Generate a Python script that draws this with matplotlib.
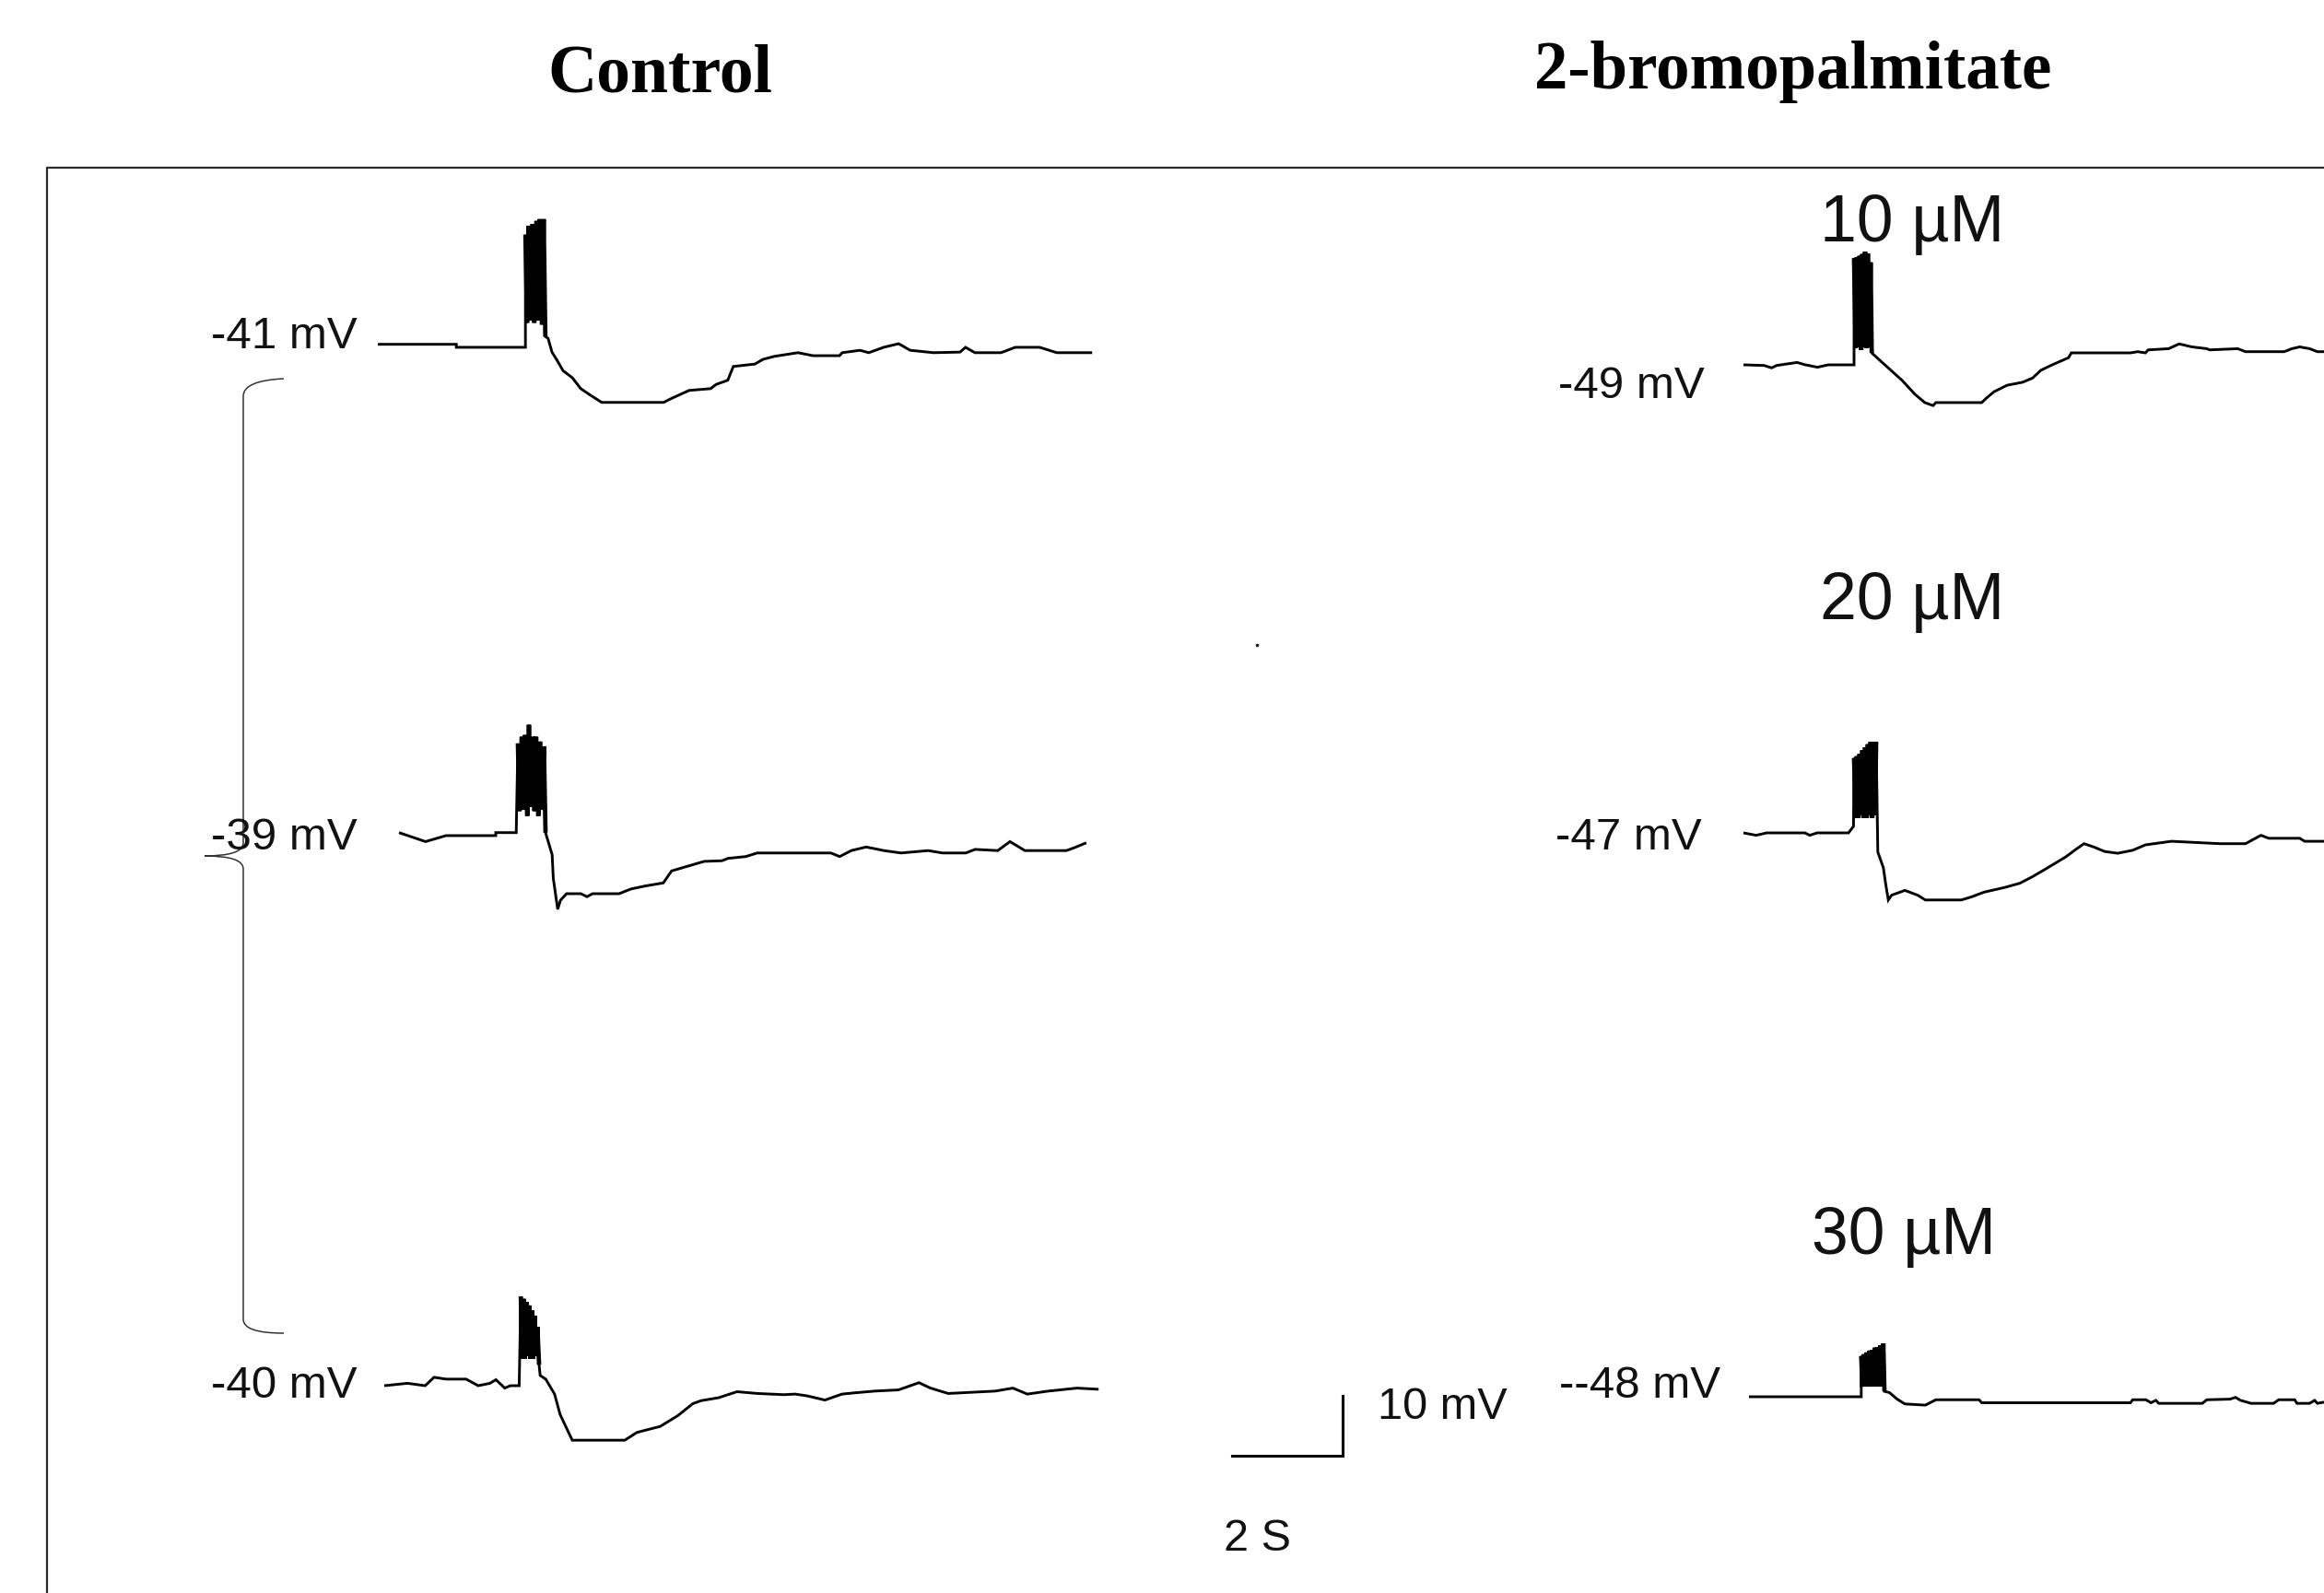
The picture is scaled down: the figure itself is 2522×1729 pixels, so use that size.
import numpy as np
import matplotlib
matplotlib.use('Agg')
from matplotlib import pyplot as plt
from matplotlib.path import Path
from matplotlib.patches import PathPatch

# figure in pixels, scale bar says 2 s = 120 px and 10 mV = 65 px
W, H = 2522, 1729
px_per_s = 60.0
px_per_mV = 6.5

# recordings: time (s) from sweep start, membrane potential (mV)
ctrl1_t = [0, 1.42, 1.42, 2.67,
           2.67, 2.70, 2.73, 2.77, 2.80, 2.83, 2.87, 2.90, 2.93, 2.97, 3.00, 3.03,
           3.08, 3.15, 3.25, 3.35, 3.52, 3.67, 3.83, 4.05, 5.17, 5.32, 5.63, 6.02,
           6.12, 6.33, 6.43, 6.82, 6.97, 7.18, 7.60, 7.87, 8.35, 8.40, 8.72, 8.88,
           9.15, 9.42, 9.63, 10.05, 10.53, 10.63, 10.80, 11.27, 11.53, 11.97, 12.28, 12.92]
ctrl1_v = [-40.8, -40.8, -41.3, -41.3,
           -22.5, -37.2, -21.0, -36.8, -20.7, -37.2, -20.2, -36.8, -19.9, -37.5, -19.9, -39.5,
           -39.8, -42.1, -43.6, -45.2, -46.4, -48.2, -49.2, -50.5, -50.5, -49.8, -48.5, -48.2,
           -47.5, -46.8, -44.5, -44.1, -43.3, -42.8, -42.2, -42.7, -42.7, -42.2, -41.8, -42.2,
           -41.3, -40.7, -41.8, -42.2, -42.1, -41.3, -42.2, -42.2, -41.3, -41.3, -42.2, -42.2]

ctrl2_t = [0, 0.48, 0.85, 1.75, 1.75, 2.12,
           2.15, 2.18, 2.22, 2.25, 2.28, 2.32, 2.35, 2.38, 2.42, 2.45, 2.48, 2.52, 2.55, 2.58, 2.62, 2.65,
           2.77, 2.79, 2.87, 2.92, 3.03, 3.29, 3.40, 3.50, 3.98, 4.20, 4.46, 4.78, 4.93, 5.15,
           5.52, 5.84, 5.95, 6.27, 6.48, 7.81, 7.97, 8.18, 8.45, 8.77, 9.08, 9.57, 9.83, 10.25,
           10.42, 10.83, 11.05, 11.32, 12.07, 12.22, 12.43]
ctrl2_v = [-38.8, -40.3, -39.3, -39.3, -38.8, -38.8,
           -23.9, -35.2, -22.8, -35.0, -22.5, -36.0, -20.8, -34.5, -22.8, -35.2, -22.8, -36.0, -23.6, -35.0, -24.4, -38.8,
           -42.5, -46.4, -51.6, -50.1, -49.0, -49.0, -49.5, -49.0, -49.0, -48.2, -47.7, -47.2, -45.2, -44.6,
           -43.6, -43.5, -43.1, -42.8, -42.2, -42.2, -42.8, -41.8, -41.2, -41.8, -42.2, -41.8, -42.2, -42.2,
           -41.6, -41.8, -40.3, -41.8, -41.8, -41.3, -40.5]

ctrl3_t = [0, 0.42, 0.74, 0.90, 1.12, 1.48, 1.70, 1.91, 2.02, 2.18, 2.28, 2.44,
           2.47, 2.49, 2.52, 2.54, 2.57, 2.59, 2.62, 2.64, 2.67, 2.69, 2.72, 2.74, 2.77, 2.80,
           2.82, 2.92, 3.08, 3.18, 3.40, 4.35, 4.57, 4.99, 5.31, 5.58, 5.73, 6.05, 6.38, 6.75,
           7.23, 7.43, 7.65, 7.97, 8.28, 8.50, 8.87, 9.30, 9.67, 9.88, 10.20, 11.05, 11.37,
           11.63, 12.01, 12.22, 12.53, 12.92]
ctrl3_v = [-40.0, -39.6, -40.0, -38.6, -38.9, -38.9, -40.0, -39.6, -39.0, -40.4, -40.0, -40.0,
           -25.1, -35.5, -25.5, -35.5, -26.0, -35.0, -26.6, -35.5, -27.4, -35.5, -28.3, -35.0, -30.2, -36.5,
           -38.3, -38.9, -41.4, -44.8, -49.1, -49.1, -47.8, -46.8, -45.0, -43.0, -42.5, -42.0, -41.0, -41.3,
           -41.5, -41.4, -41.7, -42.4, -41.4, -41.2, -40.9, -40.7, -39.5, -40.4, -41.3, -40.9, -40.4,
           -41.4, -40.9, -40.7, -40.4, -40.6]

bp10_t = [0, 0.37, 0.51, 0.60, 0.97, 1.12, 1.34, 1.53, 2.00,
          2.00, 2.03, 2.05, 2.08, 2.10, 2.13, 2.15, 2.18, 2.20, 2.23, 2.25, 2.28, 2.30, 2.32,
          2.45, 2.63, 2.87, 3.10, 3.28, 3.43, 3.48, 4.31, 4.40, 4.53, 4.77, 5.05, 5.23, 5.38,
          5.56, 5.88, 5.93, 7.00, 7.13, 7.27, 7.32, 7.69, 7.88, 8.11, 8.38, 8.43, 8.94, 9.08,
          9.78, 9.92, 10.06, 10.24, 10.38, 10.63]
bp10_v = [-49.0, -49.1, -49.5, -49.1, -48.6, -49.0, -49.4, -49.0, -49.0,
          -31.2, -46.2, -31.0, -46.0, -30.8, -46.5, -30.5, -46.0, -30.1, -46.2, -30.4, -46.0, -31.9, -47.0,
          -48.1, -49.6, -51.6, -53.9, -55.3, -55.8, -55.3, -55.3, -54.5, -53.5, -52.4, -51.9, -51.2, -49.9,
          -49.1, -47.8, -47.0, -47.0, -46.8, -47.0, -46.5, -46.3, -45.5, -46.0, -46.3, -46.5, -46.3, -46.8,
          -46.8, -46.3, -46.0, -46.3, -46.8, -46.8]

bp20_t = [0, 0.23, 0.42, 1.11, 1.20, 1.33, 1.90, 1.99,
          2.00, 2.03, 2.05, 2.08, 2.10, 2.13, 2.15, 2.18, 2.20, 2.23, 2.25, 2.28, 2.30, 2.33, 2.35, 2.38, 2.40,
          2.43, 2.53, 2.57, 2.62, 2.68, 2.92, 3.15, 3.29, 3.94, 4.12, 4.35, 4.73, 5.00, 5.23,
          5.47, 5.65, 5.83, 6.02, 6.16, 6.35, 6.53, 6.77, 7.04, 7.27, 7.74, 8.62, 9.08, 9.36,
          9.50, 10.06, 10.15, 10.63]
bp20_v = [-47.0, -47.4, -47.0, -47.0, -47.4, -47.0, -47.0, -45.9,
          -34.5, -44.5, -34.2, -44.5, -33.8, -44.0, -33.2, -44.5, -32.7, -44.5, -32.2, -44.0, -31.8, -44.5, -31.8, -44.0, -31.8,
          -50.2, -52.8, -55.4, -58.2, -57.4, -56.6, -57.4, -58.2, -58.2, -57.7, -56.9, -56.1, -55.4, -54.3,
          -53.0, -52.0, -51.0, -49.7, -48.8, -49.4, -50.1, -50.4, -49.9, -49.0, -48.4, -48.8, -48.8, -47.4,
          -47.9, -47.9, -48.4, -48.4]

bp30_t = [0, 2.03,
          2.03, 2.05, 2.08, 2.10, 2.13, 2.15, 2.18, 2.20, 2.23, 2.25, 2.28, 2.30, 2.33, 2.35, 2.38, 2.40, 2.43, 2.45,
          2.54, 2.68, 2.82, 3.19, 3.38, 4.16, 4.21, 6.90, 6.94, 7.18, 7.27, 7.36, 7.41, 8.20,
          8.28, 8.70, 8.80, 8.89, 9.08, 9.49, 9.58, 9.87, 9.91, 10.14, 10.23, 10.28, 10.53]
bp30_v = [-48.0, -48.0,
          -41.2, -46.3, -40.9, -46.3, -40.6, -46.3, -40.3, -46.3, -40.2, -46.3, -39.8, -46.3, -39.7, -46.3, -39.4, -46.3, -39.1, -47.1,
          -47.3, -48.4, -49.2, -49.4, -48.5, -48.5, -49.0, -49.0, -48.5, -48.5, -49.0, -48.6, -49.1, -49.1,
          -48.5, -48.4, -48.1, -48.6, -49.1, -49.1, -48.5, -48.5, -49.1, -49.1, -48.6, -49.1, -48.7]

resting_labels = ['-41 mV', '-39 mV', '-40 mV', '-49 mV', '-47 mV', '--48 mV']
resting_mV = [-41, -39, -40, -49, -47, -48]
conc_labels = ['10 \u00b5M', '20 \u00b5M', '30 \u00b5M']
group_titles = ['Control', '2-bromopalmitate']
scale_s = 2
scale_mV = 10

traces = [(ctrl1_t, ctrl1_v), (ctrl2_t, ctrl2_v), (ctrl3_t, ctrl3_v),
          (bp10_t, bp10_v), (bp20_t, bp20_v), (bp30_t, bp30_v)]
# index range of the spike burst in each sweep (drawn heavier so it reads as a solid block)
burst_idx = [(4, 16), (6, 22), (12, 26), (9, 23), (8, 25), (2, 20)]
# where each sweep starts (px) and where its resting level sits (px)
trace_start = [410, 433, 417, 1892, 1892, 1898]
trace_base = [375, 905, 1504, 396, 904, 1516]
label_pos = [(388, 378), (388, 922), (388, 1517), (1850, 432), (1847, 922), (1867, 1517)]
conc_pos = [(2075, 262), (2075, 672), (2066, 1361)]


def px(x, y):
    return x / px_per_s, (H - y) / px_per_mV


fig = plt.figure(figsize=(W / 100, H / 100), dpi=100)
ax = fig.add_axes([0, 0, 1, 1])
ax.set_xlim(0, W / px_per_s)
ax.set_ylim(0, H / px_per_mV)
ax.axis('off')

for i in range(len(traces)):
    t, v = traces[i]
    x0, y0 = px(trace_start[i], trace_base[i])
    xs = x0 + np.array(t)
    ys = y0 + np.array(v) - resting_mV[i]
    ax.plot(xs, ys, color='black', linewidth=2.1,
            solid_joinstyle='miter', solid_capstyle='butt')
    b0, b1 = burst_idx[i]
    ax.plot(xs[b0:b1], ys[b0:b1], color='black', linewidth=3.4,
            solid_joinstyle='miter', solid_capstyle='butt')
    lx, ly = px(*label_pos[i])
    ax.text(lx, ly, resting_labels[i], ha='right', va='baseline', fontsize=35.5,
            family='Liberation Sans', color='#111111')

for i in range(len(conc_labels)):
    cx, cy = px(*conc_pos[i])
    ax.text(cx, cy, conc_labels[i], ha='center', va='baseline', fontsize=51.5,
            family='Liberation Sans', color='#111111')

tx, ty = px(716, 100)
ax.text(tx, ty, group_titles[0], ha='center', va='baseline', fontsize=53,
        family='Liberation Serif', weight='bold')
tx, ty = px(1946, 96)
ax.text(tx, ty, group_titles[1], ha='center', va='baseline', fontsize=52.5,
        family='Liberation Serif', weight='bold')

# frame (only top and left visible)
fx, fy = zip(*[px(51, H + 5), px(51, 182), px(W + 5, 182)])
ax.plot(fx, fy, color='#2a2a2a', linewidth=1.6, clip_on=False)

# brace joining the control sweeps
verts = [px(308, 411), px(264, 413), px(264, 430),
         px(264, 915), px(264, 929), px(222, 929),
         px(264, 929), px(264, 943),
         px(264, 1432), px(264, 1447), px(308, 1447)]
codes = [Path.MOVETO, Path.CURVE3, Path.CURVE3,
         Path.LINETO, Path.CURVE3, Path.CURVE3,
         Path.CURVE3, Path.CURVE3,
         Path.LINETO, Path.CURVE3, Path.CURVE3]
ax.add_patch(PathPatch(Path(verts, codes), fill=False, edgecolor='#333333', linewidth=1.1))

# scale bar
sx, sy = px(1337, 1580)
ax.plot([sx, sx + scale_s, sx + scale_s], [sy, sy, sy + scale_mV], color='black', linewidth=2.2,
        solid_joinstyle='miter')
lx, ly = px(1495, 1540)
ax.text(lx, ly, str(scale_mV) + ' mV', ha='left', va='baseline', fontsize=35,
        family='Liberation Sans', color='#111111')
lx, ly = px(1328, 1683)
ax.text(lx, ly, str(scale_s) + ' S', ha='left', va='baseline', fontsize=35,
        family='Liberation Sans', color='#111111')

# stray dot
dx, dy = px(1364, 700)
ax.plot([dx], [dy], marker='s', markersize=1.8, color='#222222')

fig.savefig('out.png', dpi=100, facecolor='white')
plt.close(fig)
